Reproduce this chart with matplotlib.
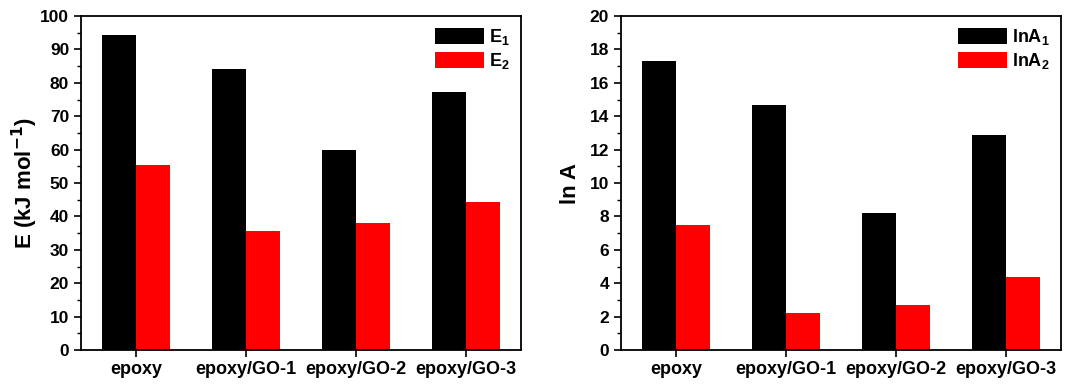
import matplotlib.pyplot as plt
import matplotlib as mpl
import numpy as np
from matplotlib.ticker import MultipleLocator

mpl.rcParams['font.family'] = ['Liberation Sans', 'DejaVu Sans']
mpl.rcParams['font.weight'] = 'bold'
mpl.rcParams['mathtext.default'] = 'regular'

categories = ["epoxy", "epoxy/GO-1", "epoxy/GO-2", "epoxy/GO-3"]
E1 = [94.3, 84.1, 59.9, 77.3]
E2 = [55.4, 35.7, 38.0, 44.3]
lnA1 = [17.3, 14.7, 8.2, 12.9]
lnA2 = [7.5, 2.2, 2.7, 4.4]

fig = plt.figure(figsize=(10.78, 3.86), dpi=100)
ax1 = fig.add_axes([81/1078, 36/386, 440/1078, 334/386])
ax2 = fig.add_axes([621/1078, 36/386, 440/1078, 334/386])

x = np.arange(1, len(categories) + 1)
w = 0.31

def draw(ax, s1, s2, ymax, major, ylabel, labels, pad):
    ax.bar(x - w/2, s1, width=w, color='black', label=labels[0])
    ax.bar(x + w/2, s2, width=w, color='#ff0000', label=labels[1])
    ax.set_xlim(0.5, 4.5)
    ax.set_ylim(0, ymax)
    ax.yaxis.set_major_locator(MultipleLocator(major))
    ax.yaxis.set_minor_locator(MultipleLocator(major/2))
    ax.set_xticks(x)
    ax.set_xticklabels(categories, fontsize=13, fontweight='bold')
    ax.tick_params(axis='y', labelsize=12.5, width=1.2, length=5, direction='out')
    ax.tick_params(axis='y', which='minor', width=1.0, length=3)
    ax.tick_params(axis='x', width=1.2, length=5, direction='out', pad=3)
    for sp in ax.spines.values():
        sp.set_linewidth(1.3)
    ax.set_ylabel(ylabel, fontsize=16, fontweight='bold', labelpad=pad)
    ax.legend(loc='upper right', frameon=False, fontsize=13,
              handlelength=2.7, handleheight=1.0, handletextpad=0.3,
              labelspacing=0.25, borderaxespad=0.2)

draw(ax1, E1, E2, 100, 10, r"E (kJ mol$^{\mathbf{-1}}$)", [r"E$_1$", r"E$_2$"], 0)
draw(ax2, lnA1, lnA2, 20, 2, "ln A", [r"lnA$_1$", r"lnA$_2$"], 6)

fig.savefig("out.png", dpi=100)
